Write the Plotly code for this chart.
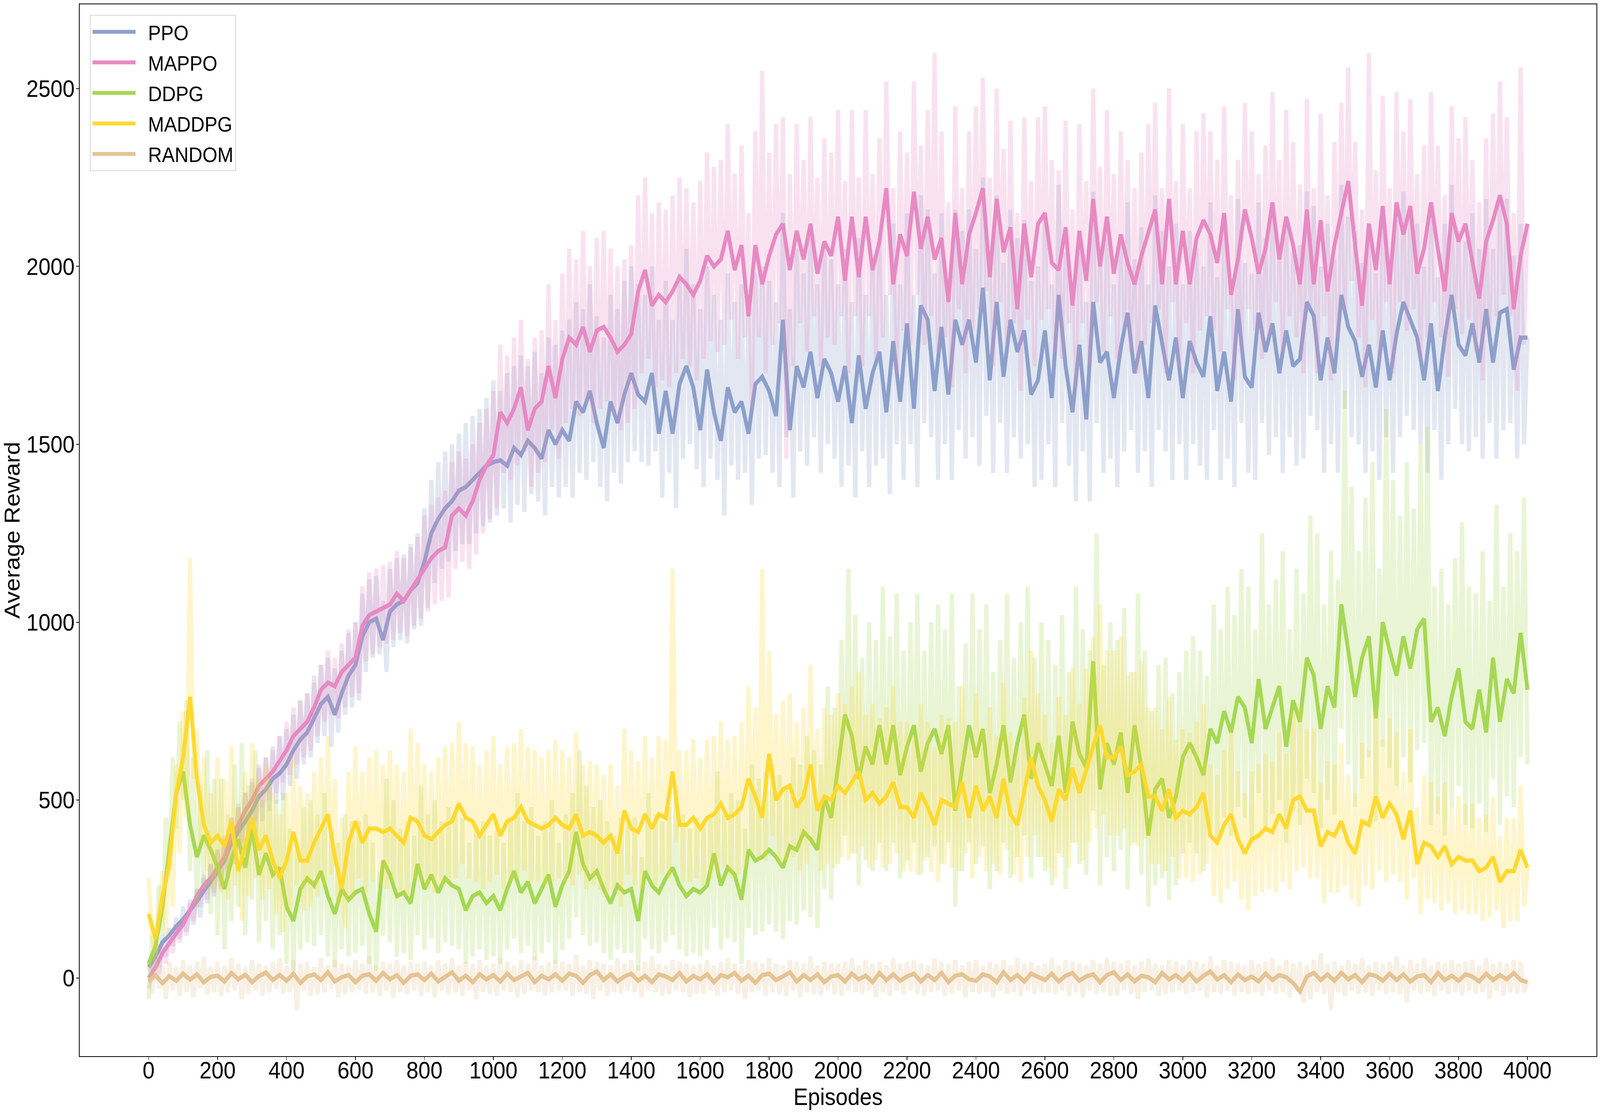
import plotly.graph_objects as go

# ---------------- data ----------------
EPISODES = list(range(0, 4001, 20))       # grid of the smoothed curves
EPISODES_RAW = list(range(0, 4001, 10))   # grid of the raw (light) curves

X_TICKS = [0, 200, 400, 600, 800, 1000, 1200, 1400, 1600, 1800, 2000,
           2200, 2400, 2600, 2800, 3000, 3200, 3400, 3600, 3800, 4000]
Y_TICKS = [0, 500, 1000, 1500, 2000, 2500]

SERIES = ["PPO", "MAPPO", "DDPG", "MADDPG", "RANDOM"]

PPO_MEAN = [
    30, 60, 100, 120, 145, 165, 190, 215, 245, 270,
    300, 330, 380, 410, 440, 470, 510, 530, 560, 575,
    600, 640, 670, 690, 730, 770, 790, 740, 800, 850,
    880, 960, 1000, 1010, 950, 1030, 1050, 1060, 1090, 1110,
    1170, 1250, 1290, 1320, 1340, 1370, 1380, 1400, 1420, 1440,
    1450, 1455, 1440, 1490, 1470, 1510, 1490, 1460, 1540, 1500,
    1540, 1510, 1620, 1590, 1650, 1560, 1490, 1620, 1560, 1640,
    1700, 1640, 1620, 1700, 1530, 1650, 1530, 1670, 1720, 1660,
    1540, 1710, 1590, 1510, 1660, 1590, 1620, 1530, 1670, 1690,
    1650, 1580, 1850, 1540, 1720, 1660, 1760, 1630, 1740, 1700,
    1620, 1720, 1560, 1750, 1600, 1700, 1760, 1590, 1790, 1620,
    1840, 1600, 1890, 1850, 1650, 1830, 1640, 1850, 1780, 1850,
    1730, 1940, 1680, 1900, 1690, 1850, 1760, 1820, 1640, 1680,
    1820, 1630, 1920, 1720, 1590, 1780, 1570, 1900, 1730, 1760,
    1630, 1770, 1870, 1700, 1790, 1630, 1890, 1790, 1680, 1800,
    1630, 1790, 1730, 1690, 1860, 1650, 1760, 1620, 1880, 1690,
    1660, 1870, 1760, 1840, 1700, 1820, 1720, 1740, 1900, 1860,
    1680, 1800, 1700, 1920, 1830, 1790, 1690, 1780, 1660, 1820,
    1680, 1810, 1900, 1850, 1800, 1680, 1840, 1650, 1800, 1920,
    1780, 1750, 1840, 1730, 1880, 1730, 1870, 1880, 1710, 1800,
    1800,
]

MAPPO_MEAN = [
    0, 30, 70, 100, 125, 150, 190, 230, 260, 280,
    310, 340, 400, 430, 470, 500, 540, 560, 580, 610,
    640, 680, 700, 720, 760, 810, 830, 820, 860, 880,
    900, 990, 1020, 1030, 1040, 1050, 1080, 1060, 1090, 1120,
    1150, 1180, 1200, 1210, 1300, 1320, 1300, 1340, 1400, 1440,
    1470, 1590, 1560, 1600, 1660, 1540, 1600, 1620, 1720, 1630,
    1740, 1800, 1780, 1830, 1760, 1820, 1830, 1800, 1760, 1780,
    1810, 1930, 1990, 1890, 1920, 1900, 1930, 1970, 1950, 1920,
    1960, 2030, 2000, 2020, 2100, 1990, 2060, 1860, 2060, 1950,
    2030, 2090, 2120, 1990, 2100, 2020, 2120, 1980, 2070, 2030,
    2140, 1960, 2140, 1970, 2140, 1990, 2070, 2220, 1950, 2090,
    2030, 2210, 2050, 2140, 2020, 2080, 1900, 2150, 1950, 2090,
    2150, 2220, 1970, 2190, 2040, 2110, 1880, 2120, 1970, 2120,
    2150, 2010, 1990, 2110, 1890, 2100, 1960, 2190, 2000, 2140,
    1980, 2090, 2010, 1950, 2030, 2100, 2160, 1950, 2190, 1950,
    2100, 1950, 2080, 2130, 2090, 2010, 2150, 1920, 2020, 2160,
    2080, 1980, 2050, 2180, 2020, 2140, 2060, 1950, 2160, 1950,
    2130, 1930, 2060, 2150, 2240, 2060, 1890, 2120, 1990, 2170,
    1950, 2180, 2090, 2170, 1980, 2050, 2180, 2050, 1930, 2150,
    2070, 2120, 2010, 1910, 2070, 2130, 2200, 2120, 1880, 2030,
    2120,
]

DDPG_MEAN = [
    40, 90, 200, 350, 520, 580, 430, 340, 400, 360,
    310, 250, 330, 390, 310, 420, 290, 350, 290, 310,
    200, 160, 250, 280, 260, 300, 230, 180, 250, 220,
    240, 250, 180, 130, 330, 290, 230, 240, 210, 320,
    250, 290, 240, 280, 260, 250, 190, 230, 240, 210,
    230, 190, 250, 300, 240, 270, 210, 250, 290, 200,
    260, 300, 410, 320, 280, 300, 250, 210, 260, 240,
    250, 160, 300, 260, 240, 280, 310, 260, 230, 250,
    240, 260, 350, 260, 310, 290, 220, 360, 330, 340,
    360, 340, 310, 370, 360, 410, 390, 360, 510, 450,
    600, 740, 680, 560, 650, 600, 710, 600, 710, 570,
    650, 710, 580, 660, 700, 630, 710, 470, 590, 710,
    620, 700, 520, 600, 710, 550, 660, 740, 560, 660,
    600, 540, 680, 520, 720, 630, 590, 890, 530, 660,
    600, 690, 520, 710, 590, 400, 530, 560, 450, 510,
    620, 660, 620, 570, 700, 660, 750, 690, 790, 760,
    660, 840, 700, 760, 820, 650, 780, 720, 900, 850,
    700, 820, 760, 1050, 920, 790, 900, 960, 730, 1000,
    920, 850, 960, 870, 980, 1010, 720, 760, 680, 790,
    870, 720, 700, 810, 690, 900, 720, 840, 800, 970,
    810,
]

MADDPG_MEAN = [
    180, 110, 230, 320, 520, 620, 790, 560, 430, 380,
    400, 370, 440, 300, 370, 450, 360, 400, 330, 280,
    330, 410, 330, 330, 380, 420, 460, 340, 250, 380,
    440, 380, 420, 420, 410, 420, 400, 380, 450, 440,
    400, 390, 410, 430, 440, 490, 450, 440, 400, 430,
    460, 400, 440, 450, 480, 440, 430, 420, 430, 450,
    430, 420, 460, 400, 410, 400, 380, 400, 350, 470,
    420, 410, 460, 420, 460, 450, 580, 430, 430, 450,
    420, 450, 460, 490, 450, 460, 480, 560, 510, 450,
    630, 500, 530, 540, 480, 510, 600, 470, 510, 500,
    540, 520, 550, 580, 500, 520, 490, 510, 550, 480,
    480, 450, 520, 480, 430, 500, 490, 480, 550, 450,
    540, 470, 510, 450, 560, 460, 430, 530, 620, 540,
    500, 440, 530, 500, 590, 520, 590, 650, 710, 620,
    620, 650, 570, 580, 600, 510, 510, 470, 530, 450,
    470, 460, 480, 520, 400, 380, 430, 460, 390, 350,
    390, 400, 420, 410, 460, 420, 500, 510, 470, 470,
    370, 410, 400, 440, 380, 350, 440, 430, 510, 450,
    490, 460, 390, 470, 320, 380, 370, 340, 370, 320,
    340, 330, 330, 300, 310, 340, 270, 300, 300, 360,
    310,
]

RANDOM_MEAN = [
    -10, 8, -15, 5, -8, 12, -5, 10, -12, 3,
    6, -10, 14, -4, 9, -12, 5, 15, -6, 8,
    -8, 12, -14, 4, 10, -6, 16, -10, 2, 8,
    -12, 6, 10, -8, 14, -4, 8, -14, 6, 10,
    -6, 12, -10, 4, 16, -8, 6, -12, 10, -4,
    8, -10, 12, -6, 4, 14, -12, 6, -4, 10,
    -8, 12, 6, -14, 8, 18, -6, 10, -10, 4,
    12, -8, 6, -12, 10, 4, -6, 14, -10, 6,
    -4, 10, -12, 8, 2, 14, -8, 6, -14, 8,
    12, -6, 4, 16, -10, 8, -6, 10, -12, 4,
    8, -10, 12, -4, 6, -12, 14, -6, 10, -8,
    4, 12, -10, 8, -6, 14, -12, 6, 10, -4,
    -8, 10, 4, -12, 16, -6, 8, -10, 12, 2,
    -6, 12, -10, 6, 14, -8, 4, 10, -12, 8,
    16, -6, 10, -10, 6, 2, -12, 14, -4, 8,
    -8, 12, -10, 6, 18, -4, 8, -12, 10, -6,
    4, -10, 12, -6, 8, 2, -14, -38, 4, 14,
    -6, 10, -8, 14, -4, 8, -12, 10, 6, -8,
    12, -6, 10, -10, 4, 8, -12, 14, -6, 6,
    -8, 10, 4, -10, 12, -6, 8, -4, 14, -6,
    -12,
]

PPO_RAW = [
    45, 10, 80, 30, 120, 60, 140, 90, 170, 110, 200, 130, 220, 150, 250, 170, 280, 210, 320, 230,
    360, 250, 390, 280, 450, 320, 480, 350, 520, 380, 550, 410, 590, 440, 620, 470, 650, 490, 680, 500,
    700, 540, 740, 560, 780, 600, 800, 620, 850, 660, 880, 680, 900, 650, 870, 690, 920, 740, 970, 760,
    1000, 780, 1080, 860, 1120, 900, 1130, 910, 1060, 860, 1150, 930, 1180, 950, 1190, 940, 1220, 980, 1250, 990,
    1320, 1040, 1400, 1110, 1450, 1150, 1480, 1170, 1500, 1200, 1530, 1220, 1560, 1220, 1580, 1250, 1600, 1270, 1630, 1280,
    1680, 1300, 1650, 1320, 1700, 1280, 1720, 1330, 1750, 1310, 1720, 1360, 1760, 1340, 1700, 1300, 1800, 1380, 1780, 1350,
    1820, 1380, 1850, 1350, 1900, 1420, 1880, 1400, 1950, 1450, 1860, 1380, 1800, 1340, 1920, 1420, 1880, 1390, 1960, 1450,
    2000, 1480, 1950, 1450, 1920, 1440, 2000, 1480, 1850, 1350, 1960, 1420, 1850, 1320, 1980, 1460, 2050, 1500, 1950, 1430,
    1880, 1380, 2000, 1460, 1920, 1400, 1850, 1300, 1980, 1440, 1900, 1400, 1950, 1420, 1880, 1330, 1980, 1460, 2000, 1470,
    1960, 1420, 1900, 1380, 2150, 1520, 1880, 1350, 2050, 1480, 1980, 1440, 2080, 1520, 1950, 1420, 2060, 1500, 2020, 1460,
    1950, 1380, 2050, 1440, 1900, 1350, 2080, 1480, 1920, 1380, 2020, 1440, 2080, 1460, 1920, 1360, 2120, 1500, 1950, 1400,
    2150, 1500, 1920, 1380, 2200, 1560, 2160, 1520, 1980, 1400, 2150, 1500, 1960, 1400, 2160, 1540, 2100, 1460, 2160, 1520,
    2050, 1440, 2250, 1580, 2000, 1420, 2200, 1560, 2010, 1420, 2160, 1520, 2080, 1460, 2130, 1500, 1960, 1380, 2000, 1400,
    2140, 1500, 1950, 1380, 2230, 1560, 2040, 1440, 1920, 1340, 2100, 1480, 1900, 1340, 2210, 1560, 2050, 1420, 2080, 1460,
    1950, 1380, 2090, 1480, 2180, 1540, 2020, 1420, 2110, 1480, 1950, 1380, 2200, 1540, 2100, 1480, 2000, 1400, 2120, 1500,
    1950, 1400, 2100, 1500, 2050, 1440, 2000, 1400, 2180, 1540, 1970, 1400, 2080, 1460, 1940, 1380, 2190, 1560, 2010, 1420,
    1980, 1400, 2180, 1560, 2080, 1470, 2150, 1520, 2020, 1420, 2130, 1520, 2040, 1440, 2060, 1460, 2210, 1580, 2170, 1540,
    2000, 1420, 2120, 1500, 2020, 1420, 2230, 1600, 2140, 1520, 2100, 1500, 2010, 1420, 2100, 1480, 1980, 1400, 2140, 1520,
    2000, 1420, 2130, 1520, 2210, 1580, 2160, 1540, 2120, 1500, 2000, 1420, 2150, 1540, 1970, 1400, 2120, 1500, 2230, 1600,
    2100, 1500, 2070, 1480, 2150, 1520, 2050, 1460, 2190, 1560, 2050, 1460, 2180, 1540, 2190, 1560, 2030, 1460, 2120, 1500,
    1800,
]

MAPPO_RAW = [
    -30, 20, 60, 10, 90, 40, 120, 70, 150, 100, 170, 120, 210, 160, 250, 200, 290, 220, 320, 240,
    360, 260, 400, 290, 450, 350, 490, 380, 520, 410, 560, 440, 600, 480, 620, 500, 640, 520, 680, 550,
    720, 570, 760, 600, 780, 620, 800, 640, 830, 680, 880, 720, 920, 740, 900, 730, 940, 760, 980, 790,
    1000, 800, 1100, 890, 1140, 910, 1150, 930, 1160, 940, 1170, 950, 1200, 970, 1180, 960, 1210, 990, 1240, 1010,
    1300, 1030, 1330, 1050, 1350, 1060, 1370, 1070, 1450, 1150, 1480, 1170, 1460, 1150, 1500, 1190, 1560, 1250, 1600, 1290,
    1650, 1320, 1780, 1420, 1750, 1400, 1800, 1440, 1850, 1480, 1740, 1380, 1800, 1420, 1820, 1450, 1950, 1540, 1850, 1460,
    1980, 1560, 2050, 1600, 2020, 1580, 2100, 1620, 2000, 1560, 2080, 1600, 2100, 1620, 2050, 1580, 2000, 1540, 2020, 1560,
    2060, 1600, 2200, 1700, 2250, 1740, 2150, 1660, 2180, 1680, 2160, 1660, 2200, 1700, 2250, 1740, 2220, 1720, 2180, 1680,
    2240, 1740, 2320, 1790, 2280, 1760, 2300, 1780, 2400, 1850, 2260, 1740, 2340, 1800, 2150, 1600, 2380, 1800, 2550, 1700,
    2320, 1780, 2400, 1840, 2420, 1460, 2260, 1720, 2400, 1840, 2300, 1760, 2420, 1860, 2250, 1720, 2360, 1800, 2320, 1780,
    2440, 1860, 2240, 1700, 2440, 1860, 2250, 1720, 2440, 1860, 2260, 1740, 2360, 1800, 2520, 1920, 2220, 1700, 2380, 1820,
    2320, 1780, 2520, 1920, 2340, 1780, 2440, 1860, 2600, 1760, 2380, 1800, 2180, 1660, 2450, 1880, 2220, 1700, 2380, 1820,
    2450, 1880, 2530, 1930, 2250, 1720, 2500, 1900, 2330, 1780, 2410, 1840, 2150, 1650, 2420, 1850, 2240, 1720, 2420, 1850,
    2450, 1880, 2300, 1760, 2270, 1740, 2410, 1840, 2160, 1660, 2400, 1840, 2240, 1720, 2500, 1900, 2280, 1760, 2440, 1860,
    2260, 1740, 2380, 1820, 2300, 1760, 2220, 1700, 2320, 1780, 2400, 1840, 2460, 1880, 2220, 1700, 2500, 1900, 2240, 1720,
    2400, 1840, 2220, 1700, 2380, 1820, 2430, 1860, 2380, 1820, 2300, 1760, 2450, 1880, 2200, 1680, 2300, 1760, 2460, 1880,
    2380, 1820, 2260, 1740, 2340, 1800, 2490, 1900, 2300, 1760, 2440, 1860, 2350, 1800, 2230, 1700, 2470, 1880, 2220, 1700,
    2430, 1860, 2200, 1680, 2350, 1800, 2460, 1880, 2560, 1960, 2350, 1800, 2160, 1660, 2600, 1850, 2270, 1740, 2480, 1900,
    2220, 1700, 2490, 1900, 2380, 1820, 2470, 1880, 2260, 1740, 2340, 1800, 2490, 1900, 2340, 1800, 2200, 1690, 2450, 1880,
    2360, 1810, 2420, 1850, 2300, 1760, 2180, 1680, 2360, 1820, 2430, 1860, 2520, 1920, 2420, 1860, 2150, 1650, 2560, 1780,
    2120,
]

DDPG_RAW = [
    -60, 120, 40, 260, 120, 450, 300, 620, 420, 720, 500, 780, 300, 620, 200, 540, 250, 640, 180, 560,
    120, 560, 80, 460, 160, 600, 200, 660, 120, 540, 220, 640, 100, 500, 160, 560, 80, 500, 120, 520,
    40, 420, 20, 360, 80, 480, 100, 500, 90, 460, 120, 520, 60, 420, 30, 380, 80, 460, 60, 440,
    70, 440, 90, 460, 40, 380, 20, 300, 120, 560, 100, 500, 60, 420, 70, 440, 50, 400, 120, 540,
    80, 460, 110, 500, 70, 440, 100, 480, 90, 460, 80, 450, 40, 380, 60, 420, 80, 440, 50, 400,
    60, 420, 40, 380, 80, 450, 110, 520, 70, 440, 90, 480, 50, 400, 70, 440, 100, 500, 40, 380,
    80, 460, 110, 520, 170, 640, 120, 540, 90, 480, 100, 500, 70, 440, 50, 400, 80, 450, 70, 430,
    70, 450, 20, 340, 110, 520, 80, 460, 70, 440, 100, 480, 120, 540, 80, 460, 60, 420, 70, 450,
    60, 430, 80, 460, 140, 580, 80, 460, 110, 520, 100, 500, 40, 420, 140, 600, 120, 560, 130, 580,
    150, 600, 130, 570, 110, 540, 160, 620, 150, 600, 190, 680, 170, 640, 140, 600, 250, 820, 220, 760,
    320, 950, 400, 1150, 350, 1020, 260, 900, 330, 1000, 300, 950, 380, 1100, 300, 960, 380, 1080, 280, 920,
    330, 1000, 380, 1080, 290, 920, 340, 1000, 370, 1050, 320, 980, 380, 1080, 200, 820, 300, 940, 380, 1080,
    320, 980, 370, 1050, 250, 860, 300, 950, 380, 1080, 280, 900, 340, 1000, 400, 1100, 280, 900, 340, 1000,
    300, 950, 260, 880, 350, 1020, 250, 860, 380, 1100, 320, 980, 290, 920, 470, 1250, 260, 880, 340, 1000,
    300, 950, 360, 1040, 250, 860, 380, 1080, 290, 920, 200, 750, 260, 880, 280, 900, 220, 800, 260, 860,
    350, 920, 380, 960, 350, 920, 300, 850, 420, 1050, 380, 980, 450, 1100, 400, 1020, 480, 1150, 450, 1100,
    380, 980, 520, 1250, 420, 1050, 460, 1120, 500, 1200, 380, 980, 470, 1150, 430, 1080, 560, 1300, 520, 1250,
    420, 1050, 500, 1200, 460, 1120, 700, 1650, 600, 1380, 480, 1200, 560, 1350, 620, 1450, 440, 1150, 650, 1600,
    590, 1400, 540, 1300, 620, 1450, 550, 1320, 640, 1500, 660, 1550, 430, 1100, 460, 1150, 400, 1050, 480, 1180,
    540, 1280, 430, 1100, 420, 1080, 490, 1200, 410, 1060, 560, 1330, 430, 1100, 510, 1250, 480, 1200, 620, 1350,
    600,
]

MADDPG_RAW = [
    280, 120, 60, 200, 300, 120, 380, 200, 600, 350, 750, 450, 1180, 560, 700, 380, 620, 300, 520, 250,
    620, 240, 560, 220, 650, 260, 480, 160, 580, 230, 660, 280, 560, 220, 600, 250, 520, 180, 460, 130,
    520, 190, 620, 260, 540, 190, 520, 200, 580, 230, 620, 260, 680, 290, 560, 200, 450, 140, 580, 220,
    650, 280, 580, 240, 620, 270, 640, 260, 600, 250, 640, 270, 600, 240, 580, 230, 700, 280, 660, 270,
    600, 250, 580, 240, 620, 260, 650, 270, 660, 280, 720, 320, 660, 280, 650, 270, 600, 250, 640, 270,
    680, 290, 600, 250, 650, 270, 660, 280, 700, 300, 650, 270, 640, 270, 620, 260, 640, 270, 670, 280,
    640, 270, 620, 260, 690, 290, 600, 250, 610, 260, 600, 250, 570, 230, 600, 250, 540, 200, 700, 290,
    640, 260, 610, 250, 680, 290, 620, 260, 680, 290, 670, 280, 1150, 380, 640, 270, 640, 270, 670, 280,
    620, 260, 670, 280, 680, 290, 720, 310, 670, 280, 680, 290, 720, 310, 820, 350, 760, 330, 1150, 330,
    920, 400, 740, 320, 780, 330, 800, 340, 720, 300, 760, 320, 880, 380, 700, 300, 760, 320, 740, 310,
    800, 340, 770, 330, 820, 350, 860, 370, 740, 310, 770, 330, 730, 310, 760, 320, 820, 350, 720, 300,
    720, 300, 680, 290, 770, 330, 720, 300, 650, 270, 740, 320, 730, 310, 720, 300, 820, 350, 670, 280,
    800, 340, 700, 300, 760, 320, 680, 290, 830, 360, 690, 290, 650, 270, 790, 340, 920, 400, 800, 340,
    740, 310, 660, 280, 790, 340, 740, 310, 870, 380, 770, 330, 870, 380, 960, 420, 1050, 460, 920, 400,
    920, 400, 960, 420, 850, 370, 860, 370, 890, 390, 760, 320, 760, 320, 700, 300, 790, 340, 670, 280,
    700, 280, 690, 270, 720, 290, 770, 320, 600, 230, 570, 210, 640, 250, 690, 270, 580, 220, 520, 190,
    580, 230, 600, 240, 630, 250, 610, 240, 690, 270, 630, 250, 750, 300, 760, 310, 700, 280, 700, 280,
    550, 210, 610, 240, 600, 240, 660, 260, 570, 220, 520, 200, 660, 260, 640, 250, 760, 300, 670, 270,
    730, 290, 690, 270, 580, 220, 700, 280, 480, 180, 570, 220, 550, 210, 510, 190, 550, 210, 480, 180,
    510, 190, 490, 180, 490, 180, 450, 160, 460, 170, 510, 190, 400, 140, 450, 160, 450, 160, 540, 200,
    310,
]

RANDOM_RAW = [
    40, -45, 55, -30, 35, -60, 45, -35, 30, -50, 50, -40, 35, -55, 45, -30, 60, -45, 30, -40,
    45, -50, 35, -40, 55, -35, 40, -60, 30, -45, 50, -35, 40, -50, 35, -40, 45, -30, 55, -45,
    35, -40, 50, -90, 40, -35, 45, -50, 30, -45, 55, -40, 35, -30, 50, -55, 40, -45, 35, -40,
    50, -35, 40, -45, 60, -40, 35, -50, 45, -35, 40, -55, 50, -40, 35, -45, 45, -35, 40, -50,
    45, -40, 35, -55, 50, -35, 40, -45, 55, -40, 35, -50, 45, -35, 40, -60, 50, -40, 35, -45,
    40, -50, 55, -35, 45, -40, 35, -55, 50, -45, 40, -35, 60, -40, 35, -50, 45, -40, 50, -35,
    45, -35, 40, -50, 65, -40, 35, -45, 50, -60, 45, -35, 40, -50, 35, -40, 55, -45, 40, -35,
    50, -40, 35, -55, 45, -35, 60, -40, 40, -50, 35, -45, 50, -35, 45, -40, 40, -55, 35, -45,
    40, -45, 50, -35, 35, -50, 45, -40, 55, -35, 40, -45, 35, -60, 50, -40, 45, -35, 40, -50,
    55, -40, 40, -45, 35, -50, 50, -35, 45, -55, 40, -40, 60, -45, 35, -50, 45, -35, 40, -45,
    40, -50, 45, -35, 55, -40, 35, -45, 50, -35, 40, -55, 45, -40, 35, -50, 55, -35, 40, -45,
    45, -35, 50, -45, 40, -50, 35, -40, 55, -35, 45, -50, 40, -45, 50, -35, 35, -55, 45, -40,
    50, -45, 35, -40, 45, -55, 40, -35, 50, -45, 35, -40, 55, -50, 40, -35, 45, -45, 35, -40,
    40, -40, 55, -45, 35, -35, 50, -50, 45, -40, 40, -55, 35, -35, 50, -45, 40, -40, 55, -50,
    45, -50, 40, -35, 50, -45, 35, -60, 45, -40, 55, -35, 40, -50, 35, -45, 50, -40, 45, -35,
    35, -45, 50, -40, 45, -35, 40, -55, 60, -40, 35, -45, 50, -35, 45, -50, 40, -40, 35, -45,
    50, -40, 40, -50, 45, -35, 55, -45, 35, -40, 50, -55, 40, -35, 45, -70, 35, -60, 50, -40,
    70, -45, 40, -90, 45, -40, 35, -50, 50, -35, 40, -45, 55, -40, 35, -50, 45, -35, 40, -45,
    45, -40, 60, -45, 35, -70, 50, -35, 40, -45, 55, -40, 35, -50, 45, -35, 40, -45, 50, -40,
    40, -50, 45, -35, 50, -45, 35, -40, 55, -60, 40, -35, 45, -50, 40, -40, 50, -45, 45, -40,
    -10,
]

# Set2 palette
COLORS = ["#8da0cb", "#e78ac3", "#a6d854", "#ffd92f", "#e5c494"]
MEANS = [PPO_MEAN, MAPPO_MEAN, DDPG_MEAN, MADDPG_MEAN, RANDOM_MEAN]
RAWS = [PPO_RAW, MAPPO_RAW, DDPG_RAW, MADDPG_RAW, RANDOM_RAW]

for m in MEANS:
    assert len(m) == len(EPISODES), len(m)
for r in RAWS:
    assert len(r) == len(EPISODES_RAW), len(r)


def rgba(hex_color, a):
    h = hex_color.lstrip("#")
    return "rgba(%d,%d,%d,%.3f)" % (int(h[0:2], 16), int(h[2:4], 16), int(h[4:6], 16), a)


FONT = "Liberation Sans, Arial, Helvetica, sans-serif"
W, H = 4496, 2848
NBSP = "\u00a0"

fig = go.Figure()
for name, color, mean, raw in zip(SERIES, COLORS, MEANS, RAWS):
    fig.add_trace(go.Scatter(
        x=EPISODES_RAW, y=raw, mode="lines",
        line=dict(color=rgba(color, 0.25), width=12),
        showlegend=False, hoverinfo="skip", legendgroup=name,
    ))
    fig.add_trace(go.Scatter(
        x=EPISODES, y=mean, mode="lines", name=NBSP * 2 + name,
        line=dict(color=color, width=11),
        legendgroup=name,
    ))

fig.update_layout(
    width=W, height=H,
    margin=dict(l=224, r=8, t=11, b=143, pad=0),
    paper_bgcolor="white", plot_bgcolor="white",
    font=dict(family=FONT, size=61, color="black"),
    showlegend=True,
    legend=dict(
        x=0.0068, y=0.990, xanchor="left", yanchor="top",
        bgcolor="rgba(255,255,255,0.8)", bordercolor="#d5d5d5", borderwidth=2,
        font=dict(family=FONT, size=54, color="black"),
        itemwidth=121, tracegroupgap=5,
    ),
)

fig.update_xaxes(
    range=[-200, 4200], tickmode="array", tickvals=X_TICKS,
    ticks="outside", ticklen=8, tickwidth=2, tickcolor="black",
    showline=True, linecolor="black", linewidth=2, mirror=True,
    showgrid=False, zeroline=False, ticklabelstandoff=-26,
    tickfont=dict(family=FONT, size=61, color="black"),
    title=dict(text="Episodes", font=dict(family=FONT, size=61, color="black"), standoff=8),
)
fig.update_yaxes(
    range=[-220, 2737], tickmode="array", tickvals=Y_TICKS,
    ticks="outside", ticklen=8, tickwidth=2, tickcolor="black",
    showline=True, linecolor="black", linewidth=2, mirror=True,
    showgrid=False, zeroline=False, ticklabelstandoff=-8,
    tickfont=dict(family=FONT, size=61, color="black"),
    title=dict(text="Average Reward", font=dict(family=FONT, size=61, color="black"), standoff=20),
)

# fit the fixed-size figure to whatever viewport the page is shown in
POST = """
document.documentElement.style.margin='0';
document.body.style.margin='0';
document.documentElement.style.overflow='hidden';
document.body.style.overflow='hidden';
var gd = document.getElementById('{plot_id}');
var sx = window.innerWidth / %d, sy = window.innerHeight / %d;
if (Math.abs(sx - 1) > 0.002 || Math.abs(sy - 1) > 0.002) {
  gd.style.transformOrigin = '0 0';
  gd.style.transform = 'scale(' + sx + ',' + sy + ')';
}
""" % (W, H)

fig.write_html(
    "out.html",
    include_plotlyjs=True,
    config={"displayModeBar": False},
    post_script=POST,
)
